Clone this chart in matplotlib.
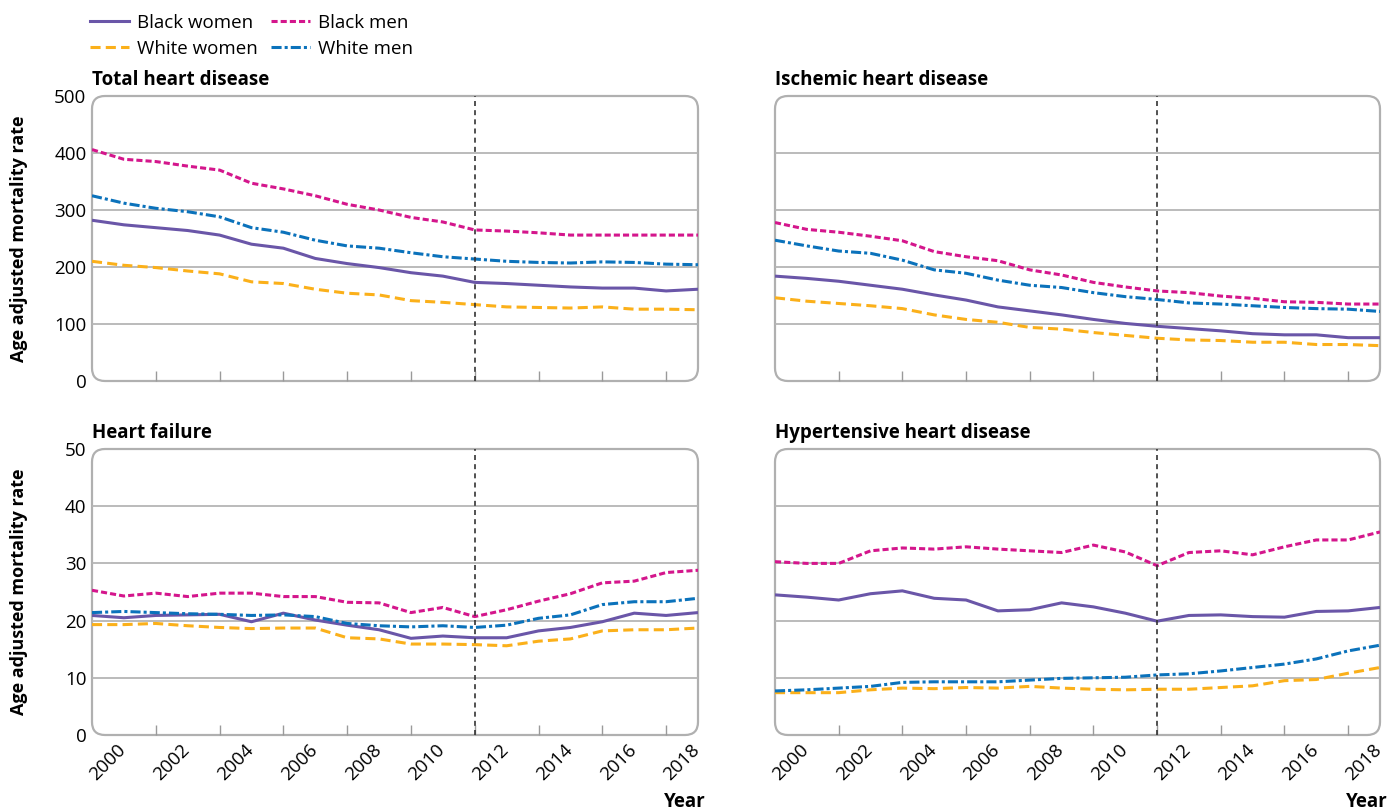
import matplotlib.pyplot as plt
import matplotlib.transforms as mtransforms
from matplotlib.patches import FancyBboxPatch
from matplotlib.lines import Line2D

plt.rcParams['font.family'] = ['Open Sans', 'DejaVu Sans']

years = list(range(1999, 2019))
series_names = ['Black women', 'Black men', 'White women', 'White men']

# Total heart disease
total_bw = [282, 274, 269, 264, 256, 240, 233, 215, 206, 199, 190, 184, 173, 171, 168, 165, 163, 163, 158, 161]
total_bm = [406, 389, 385, 377, 370, 347, 337, 325, 310, 300, 287, 279, 265, 263, 260, 256, 256, 256, 256, 256]
total_ww = [210, 203, 199, 193, 188, 174, 171, 161, 154, 151, 141, 138, 134, 130, 129, 128, 130, 126, 126, 125]
total_wm = [325, 312, 303, 297, 288, 269, 261, 247, 237, 233, 225, 218, 214, 210, 208, 207, 209, 208, 205, 204]

# Ischemic heart disease
isch_bw = [184, 180, 175, 168, 161, 151, 142, 130, 123, 116, 108, 101, 96, 92, 88, 83, 81, 81, 76, 76]
isch_bm = [278, 266, 261, 254, 246, 227, 218, 211, 195, 186, 173, 165, 158, 155, 149, 145, 139, 138, 135, 135]
isch_ww = [146, 140, 136, 132, 127, 116, 108, 103, 94, 91, 85, 80, 75, 72, 71, 68, 68, 64, 64, 62]
isch_wm = [247, 237, 228, 224, 212, 195, 189, 177, 168, 164, 155, 148, 143, 137, 135, 132, 129, 127, 126, 122]

# Heart failure
hf_bw = [20.9, 20.5, 20.9, 21.0, 21.1, 19.8, 21.3, 20.1, 19.2, 18.4, 16.9, 17.3, 17.0, 17.0, 18.2, 18.8, 19.8, 21.3, 20.9, 21.4]
hf_bm = [25.3, 24.3, 24.8, 24.2, 24.8, 24.8, 24.2, 24.2, 23.2, 23.1, 21.4, 22.3, 20.7, 21.9, 23.4, 24.7, 26.6, 26.9, 28.4, 28.8]
hf_ww = [19.3, 19.3, 19.5, 19.1, 18.8, 18.6, 18.7, 18.7, 17.0, 16.8, 15.9, 15.9, 15.8, 15.6, 16.4, 16.8, 18.2, 18.4, 18.4, 18.7]
hf_wm = [21.4, 21.6, 21.4, 21.2, 21.1, 20.9, 21.0, 20.7, 19.5, 19.1, 18.9, 19.1, 18.8, 19.2, 20.4, 21.0, 22.8, 23.3, 23.3, 23.9]

# Hypertensive heart disease
hyp_bw = [24.5, 24.1, 23.6, 24.7, 25.2, 23.9, 23.6, 21.7, 21.9, 23.1, 22.4, 21.3, 19.9, 20.9, 21.0, 20.7, 20.6, 21.6, 21.7, 22.3]
hyp_bm = [30.3, 30.0, 30.0, 32.2, 32.7, 32.5, 32.9, 32.5, 32.2, 31.9, 33.2, 32.0, 29.6, 31.9, 32.2, 31.5, 32.9, 34.1, 34.1, 35.5]
hyp_ww = [7.4, 7.4, 7.4, 7.9, 8.2, 8.1, 8.3, 8.2, 8.5, 8.2, 8.0, 7.9, 8.0, 8.0, 8.3, 8.6, 9.5, 9.7, 10.8, 11.8]
hyp_wm = [7.7, 7.9, 8.2, 8.5, 9.2, 9.3, 9.3, 9.3, 9.6, 9.9, 10.0, 10.1, 10.5, 10.7, 11.2, 11.8, 12.4, 13.3, 14.7, 15.7]

panels = [
    ('Total heart disease', [total_bw, total_bm, total_ww, total_wm], [0, 100, 200, 300, 400, 500]),
    ('Ischemic heart disease', [isch_bw, isch_bm, isch_ww, isch_wm], [0, 100, 200, 300, 400, 500]),
    ('Heart failure', [hf_bw, hf_bm, hf_ww, hf_wm], [0, 10, 20, 30, 40, 50]),
    ('Hypertensive heart disease', [hyp_bw, hyp_bm, hyp_ww, hyp_wm], [0, 10, 20, 30, 40, 50]),
]

colors = ['#6a56a8', '#d4168c', '#fbb01a', '#0b72bb']
dashes = [None, (2, 1), (3.3, 1.7), (3.3, 1, 1, 1)]
grid_col = '#b5b5b5'
fs = 13.5

W, H = 1389, 811
fig = plt.figure(figsize=(W / 100, H / 100), dpi=100)

# axes rectangles in pixels: left, top, right, bottom
rects = [(92, 96, 698, 381), (775, 96, 1380, 381),
         (92, 449, 698, 735), (775, 449, 1380, 735)]

# nudge rotated year labels a little to the left
shift = mtransforms.ScaledTranslation(-7 / 100, 0, fig.dpi_scale_trans)

for i, (title, data, yt) in enumerate(panels):
    l, t, r, b = rects[i]
    ax = fig.add_axes([l / W, 1 - b / H, (r - l) / W, (b - t) / H])
    ax.set_xlim(years[0], years[-1])
    ax.set_ylim(yt[0], yt[-1])
    for s in ax.spines.values():
        s.set_visible(False)

    # rounded frame
    aw, ah = r - l, b - t
    box = FancyBboxPatch((0, 0), 1, 1, transform=ax.transAxes,
                         boxstyle='round,pad=0,rounding_size=%f' % (13 / aw),
                         mutation_aspect=aw / ah, facecolor='white',
                         edgecolor='#b0b0b0', lw=1.6, zorder=0, clip_on=False)
    ax.add_patch(box)
    ax.patch.set_visible(False)

    for v in yt[1:-1]:
        ax.axhline(v, color=grid_col, lw=1.3, zorder=1)

    for k in range(4):
        ln, = ax.plot(years, data[k], color=colors[k], lw=2.2, zorder=3,
                      solid_capstyle='butt')
        if dashes[k] is not None:
            ln.set_dashes(dashes[k])

    ax.axvline(2011, color='#333333', lw=1.2, dashes=(3, 2.5), zorder=4)

    ax.set_yticks(yt)
    if i % 2 == 0:
        ax.set_yticklabels([str(v) for v in yt], fontsize=fs)
        ax.set_ylabel('Age adjusted mortality rate', fontsize=13, fontweight='bold')
        ax.yaxis.set_label_coords(-0.105, 0.5)
    else:
        ax.set_yticklabels([])
    ax.tick_params(axis='y', length=0, pad=4)

    ax.set_xticks(years[1::2])
    ax.set_xticks(years[1:-1], minor=True)
    ax.tick_params(axis='x', which='major', length=0, pad=4)
    ax.tick_params(axis='x', which='minor', direction='in', length=7,
                   width=1, color='#9a9a9a')
    if i >= 2:
        ax.set_xticklabels([str(y) for y in years[1::2]], fontsize=fs,
                           rotation=45, ha='right', va='top', rotation_mode='anchor')
        for lab in ax.get_xticklabels():
            lab.set_transform(lab.get_transform() + shift)
        ax.text(1.012, -0.235, 'Year', transform=ax.transAxes, ha='right',
                va='center', fontsize=fs, fontweight='bold')
    else:
        ax.set_xticklabels([])

    ax.set_title(title, loc='left', fontsize=fs, fontweight='bold', pad=8)

handles = []
for k in [0, 2, 1, 3]:
    h = Line2D([0], [0], color=colors[k], lw=2.2)
    if dashes[k] is not None:
        h.set_dashes(dashes[k])
    handles.append((h, series_names[k]))
fig.legend([h for h, n in handles], [n for h, n in handles], ncol=2,
           loc='upper left', bbox_to_anchor=(90 / W, 1 - 14 / H), frameon=False,
           fontsize=fs, handlelength=2.1, handletextpad=0.4, columnspacing=0.7,
           labelspacing=0.4, borderaxespad=0, borderpad=0)

fig.savefig('out.png', dpi=100)
